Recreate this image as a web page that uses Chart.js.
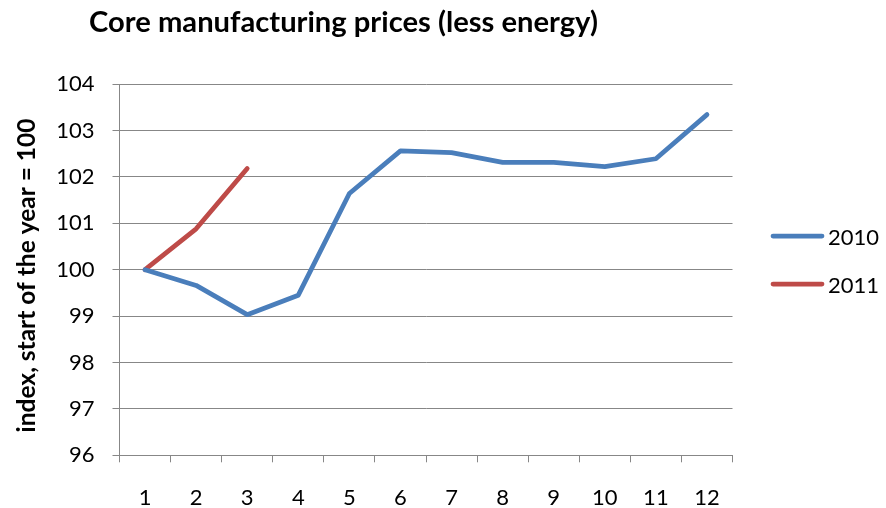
<!DOCTYPE html>
<html>
<head>
<meta charset="utf-8">
<script src="https://cdn.jsdelivr.net/npm/chart.js@4/dist/chart.umd.min.js"></script>
<style>
html,body{margin:0;padding:0;background:#fff;}
#wrap{width:886px;height:508px;position:relative;}
</style>
</head>
<body>
<div id="wrap"><canvas id="c" width="886" height="508"></canvas></div>
<script>
const categories = ["1","2","3","4","5","6","7","8","9","10","11","12"];
const series2010 = [100, 99.66, 99.03, 99.45, 101.64, 102.56, 102.52, 102.31, 102.31, 102.22, 102.39, 103.34];
const series2011 = [100, 100.88, 102.18];
const seriesNames = ["2010", "2011"];
const yTicks = [96, 97, 98, 99, 100, 101, 102, 103, 104];
const chartTitle = "Core manufacturing prices (less energy)";
const yAxisTitle = "index, start of the year = 100";

const FONT = "Lato, 'Open Sans', sans-serif";
const GRID = "#878787";
const BLUE = "#4A7EBB";
const RED = "#BE4B48";

function fitFont(ctx, text, weight, targetW, base) {
  ctx.font = weight + " " + base + "px " + FONT;
  const w = ctx.measureText(text).width;
  return base * targetW / w;
}

const decor = {
  id: "decor",
  afterDraw(chart) {
    const ctx = chart.ctx;
    ctx.save();
    // Title
    let fs = fitFont(ctx, chartTitle, "bold", 509, 24);
    ctx.font = "bold " + fs + "px " + FONT;
    ctx.fillStyle = "#000";
    ctx.textAlign = "center";
    ctx.textBaseline = "alphabetic";
    ctx.fillText(chartTitle, 343.5, 31.5);
    // Y axis title
    fs = fitFont(ctx, yAxisTitle, "bold", 314, 19);
    ctx.font = "bold " + fs + "px " + FONT;
    ctx.textBaseline = "middle";
    ctx.translate(27, 275.5);
    ctx.rotate(-Math.PI / 2);
    ctx.fillText(yAxisTitle, 0, 0);
    ctx.restore();
    // Legend
    ctx.save();
    const ys = [236, 284];
    chart.data.datasets.forEach((ds, i) => {
      ctx.strokeStyle = ds.borderColor;
      ctx.lineWidth = 4.75;
      ctx.lineCap = "round";
      ctx.beginPath();
      ctx.moveTo(773, ys[i]);
      ctx.lineTo(822, ys[i]);
      ctx.stroke();
      ctx.fillStyle = "#000";
      ctx.font = "22px " + FONT;
      ctx.textAlign = "left";
      ctx.textBaseline = "alphabetic";
      ctx.fillText(ds.label, 828, ys[i] + 8.5);
    });
    ctx.restore();
  }
};

new Chart(document.getElementById("c"), {
  type: "line",
  data: {
    labels: categories,
    datasets: [
      { label: seriesNames[0], data: series2010, borderColor: BLUE, backgroundColor: BLUE,
        borderWidth: 4.75, pointRadius: 0, tension: 0, borderCapStyle: "round", borderJoinStyle: "round" },
      { label: seriesNames[1], data: series2011, borderColor: RED, backgroundColor: RED,
        borderWidth: 4.75, pointRadius: 0, tension: 0, borderCapStyle: "round", borderJoinStyle: "round" }
    ]
  },
  options: {
    responsive: false,
    animation: false,
    layout: { padding: { top: 84, right: 153.5, bottom: 0, left: 0 } },
    plugins: { legend: { display: false }, title: { display: false }, tooltip: { enabled: false } },
    scales: {
      x: {
        type: "category",
        offset: true,
        grid: { display: true, drawOnChartArea: false, offset: true, color: GRID, tickLength: 7, tickWidth: 1 },
        border: { display: true, color: GRID, width: 1 },
        ticks: { color: "#000", font: { family: FONT, size: 22 }, padding: 22, maxRotation: 0, autoSkip: false },
        afterFit(s) { s.height = 52.7; }
      },
      y: {
        min: 96, max: 104,
        afterBuildTicks(s) { s.ticks = yTicks.map(v => ({ value: v })); },
        grid: { color: GRID, tickLength: 7, lineWidth: 1 },
        border: { display: true, color: GRID, width: 1 },
        ticks: { color: "#000", font: { family: FONT, size: 22 }, padding: 18 },
        afterFit(s) { s.width = 119.5; }
      }
    }
  },
  plugins: [decor]
});
</script>
</body>
</html>
